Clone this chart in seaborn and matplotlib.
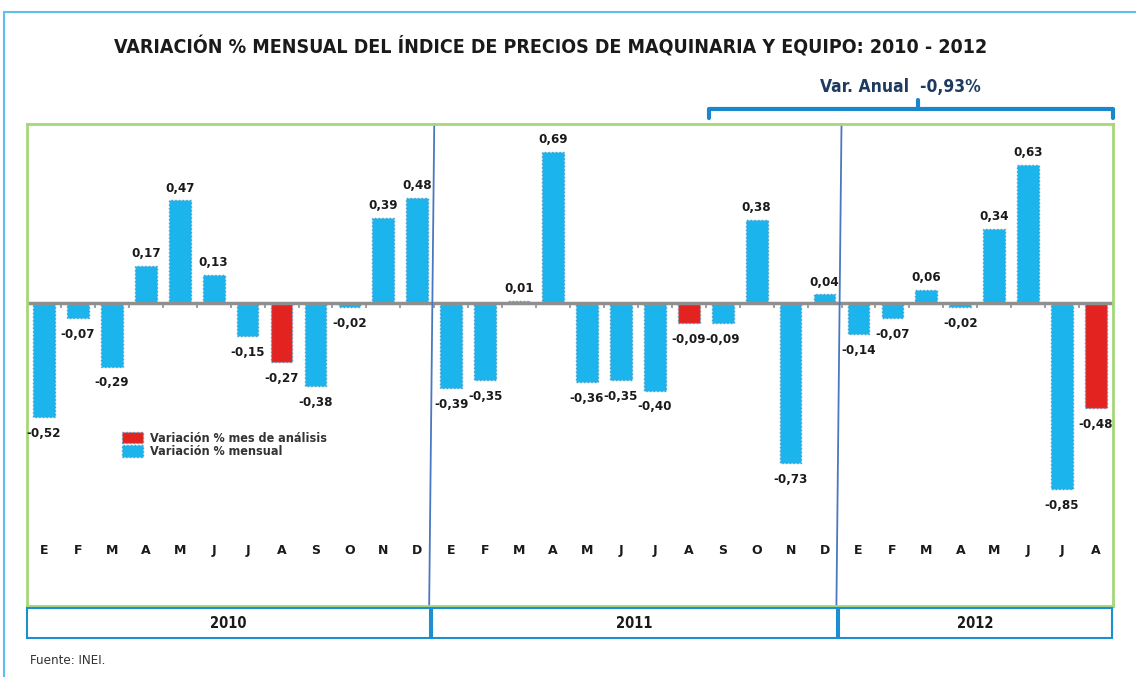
import pandas as pd
import matplotlib.pyplot as plt
import seaborn as sns
from matplotlib.lines import Line2D
from matplotlib.patches import Rectangle

# data
years = ['2010', '2011', '2012']
month_letters = ['E', 'F', 'M', 'A', 'M', 'J', 'J', 'A', 'S', 'O', 'N', 'D']
values_2010 = [-0.52, -0.07, -0.29, 0.17, 0.47, 0.13, -0.15, -0.27, -0.38, -0.02, 0.39, 0.48]
values_2011 = [-0.39, -0.35, 0.01, 0.69, -0.36, -0.35, -0.40, -0.09, -0.09, 0.38, -0.73, 0.04]
values_2012 = [-0.14, -0.07, 0.06, -0.02, 0.34, 0.63, -0.85, -0.48]
label_red = 'Variación % mes de análisis'
label_blue = 'Variación % mensual'
var_anual = '-0,93%'

values = values_2010 + values_2011 + values_2012
months = month_letters * 2 + month_letters[:8]
# August (analysis month) is highlighted in red each year
tipo = [label_red if i % 12 == 7 else label_blue for i in range(len(values))]
df = pd.DataFrame({'pos': range(len(values)), 'value': values, 'tipo': tipo})

BLUE = '#1CB4EC'
RED = '#E3231F'
COND = dict(family='DejaVu Sans', stretch='condensed')

sns.set_style('white')
plt.rcParams['font.family'] = ['DejaVu Sans']

W, H = 1136, 677
fig = plt.figure(figsize=(W / 100, H / 100), dpi=100)
ax = fig.add_axes([27 / W, 1 - 606 / H, (1113 - 27) / W, (606 - 124) / H])

sns.barplot(data=df, x='pos', y='value', hue='tipo', hue_order=[label_red, label_blue],
            palette={label_red: RED, label_blue: BLUE}, dodge=False, width=0.64,
            saturation=1, edgecolor='#4a9cc4', linewidth=1.0, ax=ax)
for p in ax.patches:
    p.set_linestyle(':')

ax.set_xlim(-0.5, len(values) - 0.5)
ax.set_ylim(-1.383, 0.817)
ax.set_xticks([])
ax.set_yticks([])
ax.set_xlabel('')
ax.set_ylabel('')
for s in ax.spines.values():
    s.set_color('#A6D77A')
    s.set_linewidth(2)

# zero line with small ticks
ax.axhline(0, color='#8f8f8f', lw=2.5, zorder=1)
ax.vlines([i + 0.5 for i in range(-1, len(values))], -0.025, 0, color='#8f8f8f', lw=1.2, zorder=1)

# value labels
for i, v in enumerate(values):
    txt = f'{v:.2f}'.replace('.', ',')
    if v >= 0:
        ax.text(i, v + 0.025, txt, ha='center', va='bottom', fontsize=9.5,
                fontweight='bold', color='#1a1a1a', **COND)
    else:
        ax.text(i, v - 0.045, txt, ha='center', va='top', fontsize=9.5,
                fontweight='bold', color='#1a1a1a', **COND)

# month letters
for i, m in enumerate(months):
    ax.text(i, -1.128, m, ha='center', va='center', fontsize=9, fontweight='bold', color='#1a1a1a')

# year dividers
for b in [11.5, 23.5]:
    ax.plot([b, b - 0.15], [0.817, -1.383], color='#4A78C0', lw=1.3, clip_on=False)

leg = ax.legend(loc='upper left', bbox_to_anchor=(0.083, 0.372), frameon=False,
                fontsize=9, handlelength=1.7, handleheight=1.0, labelspacing=0.05,
                borderaxespad=0, handletextpad=0.5)
for t in leg.get_texts():
    t.set_fontweight('bold')
    t.set_color('#333333')
    t.set_fontstretch('condensed')

# year boxes
edges = [27, 430, 837, 1112]
for k, y in enumerate(years):
    l, r = edges[k] + (2 if k else 0), edges[k + 1]
    fig.add_artist(Rectangle((l / W, 1 - 638 / H), (r - l) / W, 30 / H, transform=fig.transFigure,
                             fill=False, edgecolor='#1C8FD0', lw=1.5))
    fig.text((l + r) / 2 / W, 1 - 623 / H, y, ha='center', va='center', fontsize=10.5,
             fontweight='bold', color='#1a1a1a', **COND)

# outer frame
fig.add_artist(Line2D([4 / W, 1], [1 - 12 / H, 1 - 12 / H], transform=fig.transFigure, color='#5BC0EB', lw=1.5))
fig.add_artist(Line2D([4 / W, 4 / W], [0, 1 - 12 / H], transform=fig.transFigure, color='#5BC0EB', lw=1.5))

# title
fig.text(551 / W, 1 - 47 / H, 'VARIACIÓN % MENSUAL DEL ÍNDICE DE PRECIOS DE MAQUINARIA Y EQUIPO: 2010 - 2012',
         ha='center', va='center', fontsize=14, fontweight='bold', color='#1a1a1a', **COND)

# annual bracket
bx = [709, 709, 1113, 1113]
by = [118, 109, 109, 118]
fig.add_artist(Line2D([x / W for x in bx], [1 - y / H for y in by], transform=fig.transFigure,
                      color='#1A86CC', lw=3, solid_joinstyle='round'))
fig.add_artist(Line2D([918 / W, 918 / W], [1 - 109 / H, 1 - 100 / H], transform=fig.transFigure,
                      color='#1A86CC', lw=3))
fig.text(900 / W, 1 - 87 / H, f'Var. Anual  {var_anual}', ha='center', va='center', fontsize=12.5,
         fontweight='bold', color='#1F3A60', **COND)

fig.text(30 / W, 1 - 661 / H, 'Fuente: INEI.', ha='left', va='center', fontsize=9.5,
         color='#333333', **COND)

fig.savefig('out.png', dpi=100)
